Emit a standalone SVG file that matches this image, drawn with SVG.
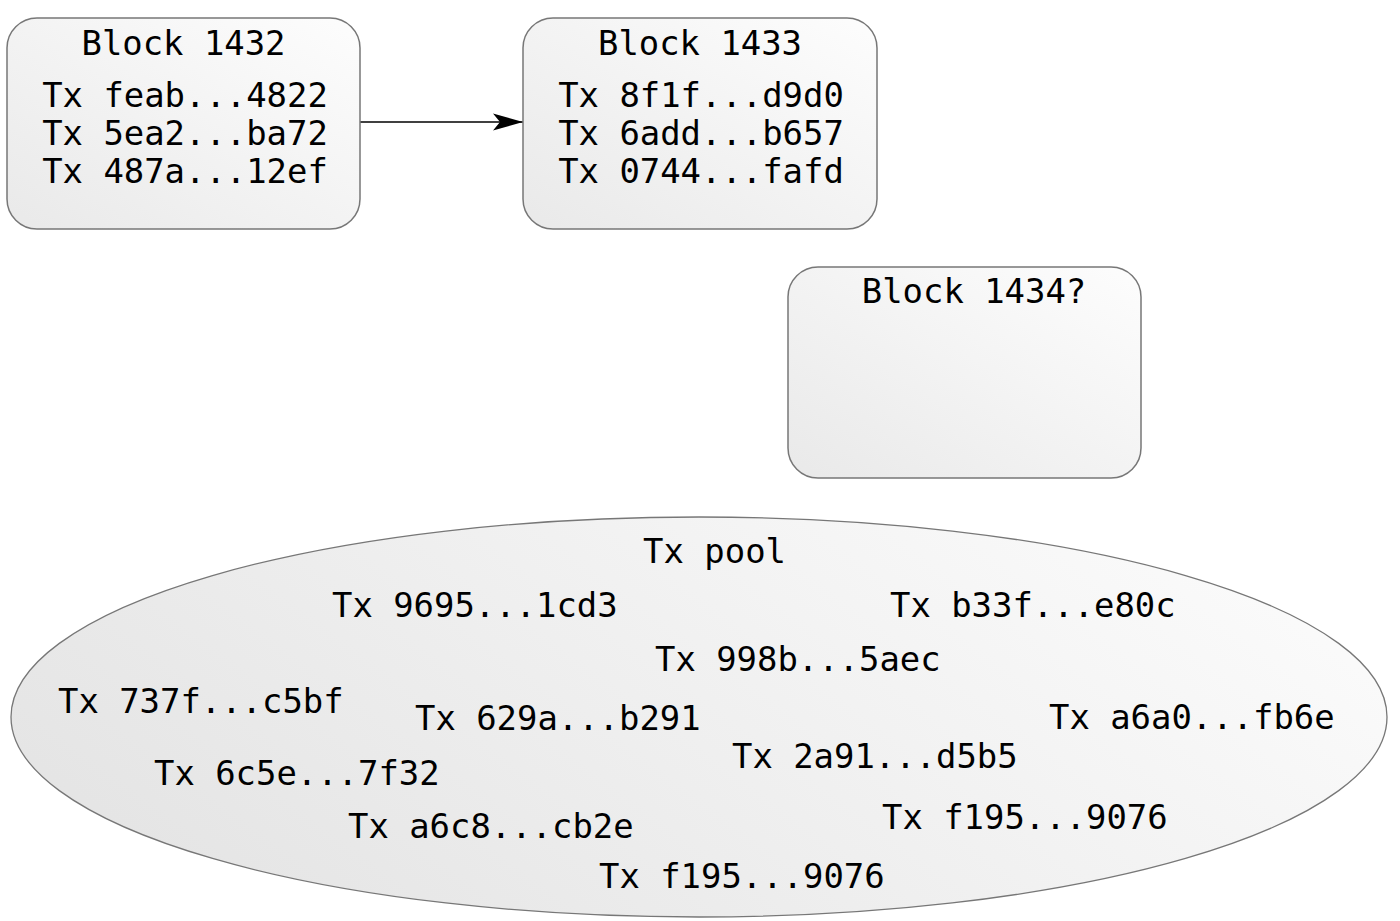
<svg xmlns="http://www.w3.org/2000/svg" width="1400" height="921" viewBox="0 0 1400 921">
<style>
.box{fill:url(#g);stroke:#777;stroke-width:1.5}
.pool{fill:url(#g2);stroke:#777;stroke-width:1.3}
text{font-family:"DejaVu Sans Mono","Liberation Mono",monospace;font-size:34px;fill:#000}
.c{text-anchor:middle}
</style>
<defs>
<linearGradient id="g" x1="0" y1="1" x2="1" y2="0">
<stop offset="0" stop-color="#e9e9e9"/>
<stop offset="1" stop-color="#fdfdfd"/>
</linearGradient>
<linearGradient id="g2" x1="0" y1="0.7" x2="1" y2="0.3">
<stop offset="0" stop-color="#e4e4e4"/>
<stop offset="1" stop-color="#fbfbfb"/>
</linearGradient>
<marker id="ah" markerWidth="30" markerHeight="18" refX="30" refY="9" orient="auto" markerUnits="userSpaceOnUse">
<path d="M0,0.5 L30,9 L0,17.5 L7,9 Z" fill="#000"/>
</marker>
</defs>
<g id="connectors">
<line x1="360" y1="122" x2="523" y2="122" stroke="#000" stroke-width="1.5" marker-end="url(#ah)"/>
</g>
<g id="block1432">
<rect class="box" x="7" y="18" width="353" height="211" rx="30"/>
<text class="c" x="183.5" y="55" textLength="204" lengthAdjust="spacingAndGlyphs">Block 1432</text>
<text class="c" x="185" y="107" textLength="285.6" lengthAdjust="spacingAndGlyphs">Tx feab...4822</text>
<text class="c" x="185" y="145" textLength="285.6" lengthAdjust="spacingAndGlyphs">Tx 5ea2...ba72</text>
<text class="c" x="185" y="183" textLength="285.6" lengthAdjust="spacingAndGlyphs">Tx 487a...12ef</text>
</g>
<g id="block1433">
<rect class="box" x="523" y="18" width="354" height="211" rx="30"/>
<text class="c" x="700" y="55" textLength="204" lengthAdjust="spacingAndGlyphs">Block 1433</text>
<text class="c" x="701" y="107" textLength="285.6" lengthAdjust="spacingAndGlyphs">Tx 8f1f...d9d0</text>
<text class="c" x="701" y="145" textLength="285.6" lengthAdjust="spacingAndGlyphs">Tx 6add...b657</text>
<text class="c" x="701" y="183" textLength="285.6" lengthAdjust="spacingAndGlyphs">Tx 0744...fafd</text>
</g>
<g id="block1434">
<rect class="box" x="788" y="267" width="353" height="211" rx="30"/>
<text class="c" x="974" y="303" textLength="224.5" lengthAdjust="spacingAndGlyphs">Block 1434?</text>
</g>
<g id="txpool">
<ellipse class="pool" cx="699" cy="717" rx="688" ry="200"/>
<text class="c" x="714.5" y="563" textLength="143" lengthAdjust="spacingAndGlyphs">Tx pool</text>
<text x="332" y="617" textLength="285.6" lengthAdjust="spacingAndGlyphs">Tx 9695...1cd3</text>
<text x="890" y="617" textLength="285.6" lengthAdjust="spacingAndGlyphs">Tx b33f...e80c</text>
<text x="655" y="671" textLength="285.6" lengthAdjust="spacingAndGlyphs">Tx 998b...5aec</text>
<text x="58" y="713" textLength="285.6" lengthAdjust="spacingAndGlyphs">Tx 737f...c5bf</text>
<text x="415" y="730" textLength="285.6" lengthAdjust="spacingAndGlyphs">Tx 629a...b291</text>
<text x="1049" y="729" textLength="285.6" lengthAdjust="spacingAndGlyphs">Tx a6a0...fb6e</text>
<text x="732" y="768" textLength="285.6" lengthAdjust="spacingAndGlyphs">Tx 2a91...d5b5</text>
<text x="154" y="785" textLength="285.6" lengthAdjust="spacingAndGlyphs">Tx 6c5e...7f32</text>
<text x="882" y="829" textLength="285.6" lengthAdjust="spacingAndGlyphs">Tx f195...9076</text>
<text x="348" y="838" textLength="285.6" lengthAdjust="spacingAndGlyphs">Tx a6c8...cb2e</text>
<text x="599" y="888" textLength="285.6" lengthAdjust="spacingAndGlyphs">Tx f195...9076</text>
</g>
</svg>
